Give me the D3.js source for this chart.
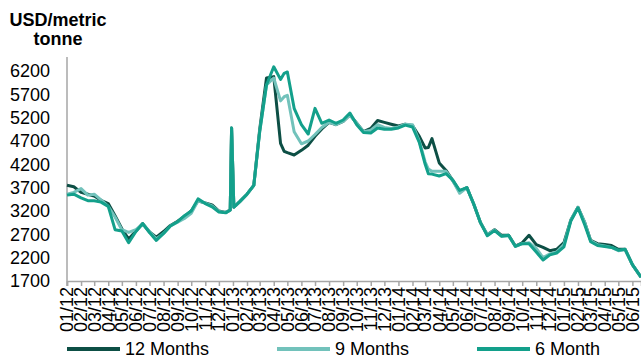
<!DOCTYPE html>
<html>
<head>
<meta charset="utf-8">
<script src="https://cdn.jsdelivr.net/npm/d3@7"></script>
<style>
  html, body { margin: 0; padding: 0; background: #fff; }
  svg { display: block; font-family: "Liberation Sans", Arial, sans-serif; }
</style>
</head>
<body>
<svg id="chart" width="641" height="358"></svg>
<script>
// ---- data ----
const dates = [
  "2012-01-01","2012-01-16","2012-02-01","2012-02-16","2012-03-01","2012-03-16",
  "2012-04-01","2012-04-16","2012-05-01","2012-05-16","2012-06-01","2012-06-16",
  "2012-07-01","2012-07-16","2012-08-01","2012-08-16","2012-09-01","2012-09-16",
  "2012-10-01","2012-10-16","2012-11-01","2012-11-16","2012-12-01","2012-12-16",
  "2012-12-26","2012-12-29","2013-01-03","2013-01-16","2013-02-01","2013-02-16",
  "2013-03-01","2013-03-16","2013-04-01","2013-04-16","2013-04-24","2013-05-01",
  "2013-05-16","2013-06-01","2013-06-16","2013-07-01","2013-07-16","2013-08-01",
  "2013-08-16","2013-09-01","2013-09-16","2013-10-01","2013-10-16","2013-11-01",
  "2013-11-16","2013-12-01","2013-12-16","2014-01-01","2014-01-16","2014-02-01",
  "2014-02-16","2014-03-01","2014-03-08","2014-03-16","2014-04-01","2014-04-16",
  "2014-05-01","2014-05-16","2014-06-01","2014-06-16","2014-07-01","2014-07-16",
  "2014-08-01","2014-08-16","2014-09-01","2014-09-16","2014-10-01","2014-10-16",
  "2014-11-01","2014-11-16","2014-12-01","2014-12-16","2015-01-01","2015-01-16",
  "2015-02-01","2015-02-16","2015-03-01","2015-03-16","2015-04-01","2015-04-16",
  "2015-05-01","2015-05-16","2015-06-01","2015-06-20"
];

const months12 = [
  3750,3720,3600,3560,3520,3430, 3360,3100,2820,2600,2770,2930,
  2750,2640,2760,2890,2980,3080, 3200,3420,3370,3330,3200,3170,
  3220,4980,3280,3400,3560,3750, 4950,6050,6080,4650,4480,4450,
  4400,4500,4610,4800,4960,5100, 5050,5120,5260,5080,4900,4970,
  5140,5100,5060,5020,5060,5030, 4800,4550,4560,4750,4230,4070,
  3850,3620,3700,3350,2950,2690, 2800,2680,2680,2450,2520,2680,
  2480,2420,2350,2380,2520,3000, 3280,2950,2570,2500,2480,2460,
  2380,2380,2050,1780
];
const months9 = [
  3560,3600,3680,3540,3560,3440, 3300,3070,2800,2740,2800,2920,
  2760,2600,2720,2880,2960,3040, 3150,3420,3370,3310,3190,3170,
  3220,4980,3280,3400,3560,3750, 4900,5900,6050,5560,5650,5680,
  4900,4640,4700,4840,4990,5100, 5050,5120,5260,5080,4900,4930,
  5050,4990,4970,5000,5060,5050, 4700,4250,4100,4050,4050,4050,
  3850,3580,3700,3350,2950,2690, 2790,2660,2670,2440,2500,2520,
  2400,2200,2280,2320,2480,3000, 3280,2950,2560,2480,2450,2420,
  2350,2370,2050,1780
];
const months6 = [
  3540,3560,3480,3420,3420,3390, 3300,2800,2770,2520,2760,2930,
  2740,2570,2720,2880,2970,3100, 3200,3460,3360,3290,3180,3160,
  3220,4980,3280,3400,3560,3750, 4900,5900,6290,6020,6150,6180,
  5400,5050,4850,5400,5080,5150, 5080,5150,5300,5050,4880,4870,
  4980,4950,4950,4980,5040,5000, 4670,4200,4000,3990,3950,4000,
  3860,3640,3700,3350,2950,2670, 2780,2660,2680,2440,2500,2500,
  2320,2150,2260,2300,2430,2980, 3270,2900,2540,2460,2440,2420,
  2360,2380,2050,1780
];

const seriesNames = ["12 Months", "9 Months", "6 Month"];
const seriesColors = ["#0d4f45", "#72c2bb", "#13a08b"];
const yTicks = [1700, 2200, 2700, 3200, 3700, 4200, 4700, 5200, 5700, 6200];
const yTitle = ["USD/metric", "tonne"];

// ---- drawing ----
(function () {
const svg = d3.select("#chart");
const parse = d3.timeParse("%Y-%m-%d");
const fmt = d3.timeFormat("%m/%y");
const dts = dates.map(parse);

const mLeft = 67, mRight = 641, mTop = 57, mBottom = 281;

const x = d3.scaleTime()
  .domain([parse("2012-01-01"), parse("2015-06-20")])
  .range([mLeft, mRight]);
const y = d3.scaleLinear().domain([1700, 6500]).range([mBottom, mTop]);

const axisColor = "#a6a6a6";

// y axis line
svg.append("line")
  .attr("x1", mLeft).attr("x2", mLeft)
  .attr("y1", mTop).attr("y2", mBottom + 5)
  .attr("stroke", axisColor).attr("stroke-width", 1.5);

// y tick labels
svg.append("g").selectAll("text").data(yTicks).join("text")
  .attr("x", 50).attr("y", d => y(d))
  .attr("dy", "0.35em")
  .attr("text-anchor", "end")
  .attr("font-size", 18)
  .attr("fill", "#000")
  .text(d => d);

// y title
svg.append("g").selectAll("text").data(yTitle).join("text")
  .attr("x", 58).attr("y", (d, i) => 26 + i * 19)
  .attr("text-anchor", "middle")
  .attr("font-size", 18).attr("font-weight", "bold")
  .attr("fill", "#000")
  .text(d => d);

// x axis
const monthTicks = d3.timeMonth.range(parse("2012-01-01"), parse("2015-06-02"));
const xAxis = d3.axisBottom(x).tickValues(monthTicks).tickSize(5).tickFormat("");
const gx = svg.append("g").attr("transform", `translate(0,${mBottom})`).call(xAxis);
gx.select(".domain").attr("stroke", axisColor).attr("stroke-width", 1.5);
gx.selectAll(".tick line").attr("stroke", axisColor).attr("stroke-width", 1.5);

svg.append("g").selectAll("text").data(monthTicks).join("text")
  .attr("transform", d => `translate(${x(d)},${mBottom + 6}) rotate(-90)`)
  .attr("dy", "0.35em")
  .attr("text-anchor", "end")
  .attr("font-size", 18)
  .attr("fill", "#000")
  .text(d => fmt(d));

// lines
const seriesData = [months12, months9, months6];
const line = d3.line()
  .x((d, i) => x(dts[i]))
  .y(d => y(d));

svg.append("g").selectAll("path").data(seriesData).join("path")
  .attr("d", d => line(d))
  .attr("fill", "none")
  .attr("stroke", (d, i) => seriesColors[i])
  .attr("stroke-width", 3)
  .attr("stroke-linejoin", "round");

// legend
const legendX = [67, 277, 477];
const lg = svg.append("g").selectAll("g").data(seriesNames).join("g")
  .attr("transform", (d, i) => `translate(${legendX[i]},349)`);
lg.append("line")
  .attr("x1", 0).attr("x2", 53)
  .attr("stroke", (d, i) => seriesColors[i])
  .attr("stroke-width", 4);
lg.append("text")
  .attr("x", 58).attr("dy", "0.35em")
  .attr("font-size", 18).attr("fill", "#000")
  .text(d => d);
})();
</script>
</body>
</html>
